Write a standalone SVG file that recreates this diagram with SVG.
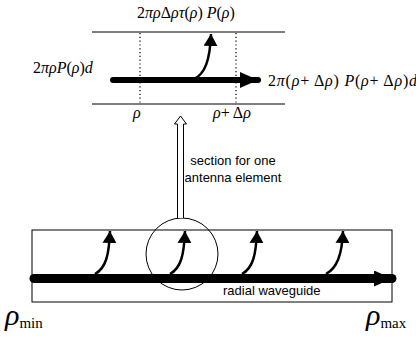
<svg xmlns="http://www.w3.org/2000/svg" width="416" height="339" viewBox="0 0 416 339">
<style>
.m{font-family:"Liberation Serif","Times New Roman",serif;font-size:16px;fill:#000}
.i{font-style:italic}
.s{font-family:"Liberation Sans",Arial,sans-serif;font-size:13px;fill:#000}
.ln{stroke:#000;stroke-width:1;fill:none}
.dot{stroke:#000;stroke-width:1.2;stroke-dasharray:1.2 2.6;fill:none}
.curve{stroke:#000;stroke-width:2.5;fill:none}
</style>
<defs>
<marker id="ah" markerUnits="userSpaceOnUse" markerWidth="12" markerHeight="14" refX="12" refY="7" orient="auto"><path d="M0,0 L12,7 L0,14 Z" fill="#000"/></marker>
<marker id="bh" markerUnits="userSpaceOnUse" markerWidth="18" markerHeight="16" refX="18" refY="8" orient="auto"><path d="M0,0 L18,8 L0,16 Z" fill="#000"/></marker>
</defs>
<rect width="416" height="339" fill="#fff"/>
<g id="section">
<line class="ln" x1="92" y1="32" x2="285" y2="32"/>
<line class="ln" x1="92" y1="104" x2="285" y2="104"/>
<line class="dot" x1="140" y1="33" x2="140" y2="103"/>
<line class="dot" x1="236" y1="33" x2="236" y2="103"/>
<text class="m" x="137" y="18">2<tspan class="i">πρ</tspan>Δ<tspan class="i">ρτ</tspan>(<tspan class="i">ρ</tspan>) <tspan class="i">P</tspan>(<tspan class="i">ρ</tspan>)</text>
<text class="m" x="33" y="73">2<tspan class="i">πρP</tspan>(<tspan class="i">ρ</tspan>)<tspan class="i">d</tspan></text>
<text class="m" x="268" y="86" textLength="149" lengthAdjust="spacing">2<tspan class="i">π</tspan>(<tspan class="i">ρ</tspan>+ Δ<tspan class="i">ρ</tspan>) <tspan class="i">P</tspan>(<tspan class="i">ρ</tspan>+ Δ<tspan class="i">ρ</tspan>)<tspan class="i">d</tspan></text>
<text class="m i" x="133" y="118">ρ</text>
<text class="m" x="213" y="118"><tspan class="i">ρ</tspan>+ Δ<tspan class="i">ρ</tspan></text>
</g>
<g id="waveguide">
<rect class="ln" x="32" y="230" width="360" height="72"/>
<circle class="ln" cx="182" cy="254" r="36"/>
<text class="s" x="223" y="295">radial waveguide</text>
</g>
<g id="labels">
<text class="s" x="233" y="165" text-anchor="middle">section for one</text>
<text class="s" x="233" y="182" text-anchor="middle">antenna element</text>
<text class="m" x="5" y="325" style="font-size:30px"><tspan class="i">ρ</tspan><tspan dy="3" style="font-size:15px">min</tspan></text>
<text class="m" x="366" y="325" style="font-size:30px"><tspan class="i">ρ</tspan><tspan dy="3" style="font-size:15px">max</tspan></text>
</g>
<g id="connectors">
<path d="M113,80 L258,80" stroke="#000" stroke-width="6" stroke-linecap="round" fill="none" marker-end="url(#bh)"/>
<path class="curve" d="M194,79 C205,74 210,60 211,34" marker-end="url(#ah)"/>
<path d="M34,278.5 L392,278.5" stroke="#000" stroke-width="9" stroke-linecap="round" fill="none" marker-end="url(#bh)"/>
<path class="curve" d="M95,274 C106,268 109,255 110,231" marker-end="url(#ah)"/>
<path class="curve" d="M170,274 C181,268 184,255 185,231" marker-end="url(#ah)"/>
<path class="curve" d="M242,274 C253,268 256,255 257,231" marker-end="url(#ah)"/>
<path class="curve" d="M326,274 C337,268 342,255 343,231" marker-end="url(#ah)"/>
<path d="M177.5,218 L177.5,124 L174.5,124 L180.5,116 L186.5,124 L183.5,124 L183.5,218" fill="#fff" stroke="#000" stroke-width="1"/>
</g>
</svg>
